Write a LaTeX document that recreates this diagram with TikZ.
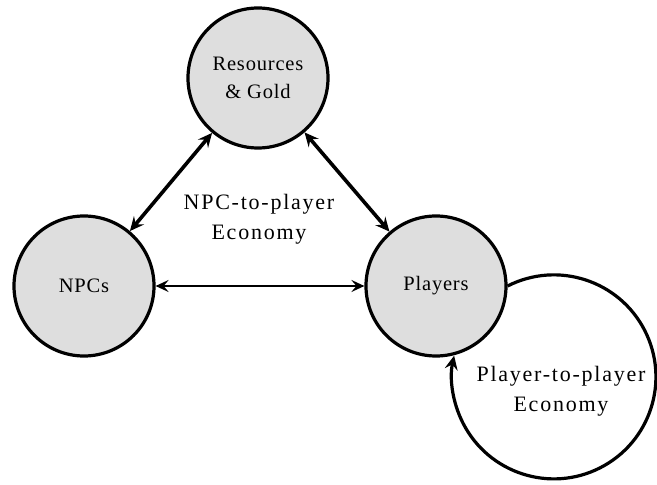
\documentclass[tikz,border=0pt]{standalone}
\usepackage{fontspec}
\setmainfont{Liberation Serif}
\newfontfamily\widefont[LetterSpace=8]{Liberation Serif}
\newfontfamily\nodefont[LetterSpace=4]{Liberation Serif}
\usetikzlibrary{arrows.meta}
\begin{document}
\begin{tikzpicture}[x=1pt,y=1pt,
  hub/.style={circle,draw,line width=3.2pt,fill=black!13,minimum size=140pt,inner sep=0pt,align=center,font=\nodefont\fontsize{20.5}{28}\selectfont},
  lbl/.style={align=center,font=\widefont\fontsize{22}{30}\selectfont},
  arr/.style={line width=3.6pt,{Stealth[length=14pt,width=13pt,inset=5pt]}-{Stealth[length=14pt,width=13pt,inset=5pt]}},
  arrh/.style={line width=2.6pt,{Stealth[length=13pt,width=12pt,inset=5pt]}-{Stealth[length=13pt,width=12pt,inset=5pt]}},
  loop/.style={line width=3.2pt,-{Stealth[length=14pt,width=13pt,inset=5pt]}}]
\useasboundingbox (0,0) rectangle (657,485);
\node[hub] (R) at (258,407) {Resources\\\& Gold};
\node[hub] (N) at (84,199) {NPCs};
\node[hub] (P) at (436,199) {Players};
\node[lbl] (T) at (259,266) {NPC-to-player\\Economy};
\node[lbl] (T2) at (561,94) {Player-to-player\\Economy};
\draw[arr] (R) -- (N);
\draw[arr] (R) -- (P);
\draw[arrh] (N) -- (P);
\draw[loop] (P.east) arc[start angle=117, end angle=-192, radius=102];
\end{tikzpicture}
\end{document}
